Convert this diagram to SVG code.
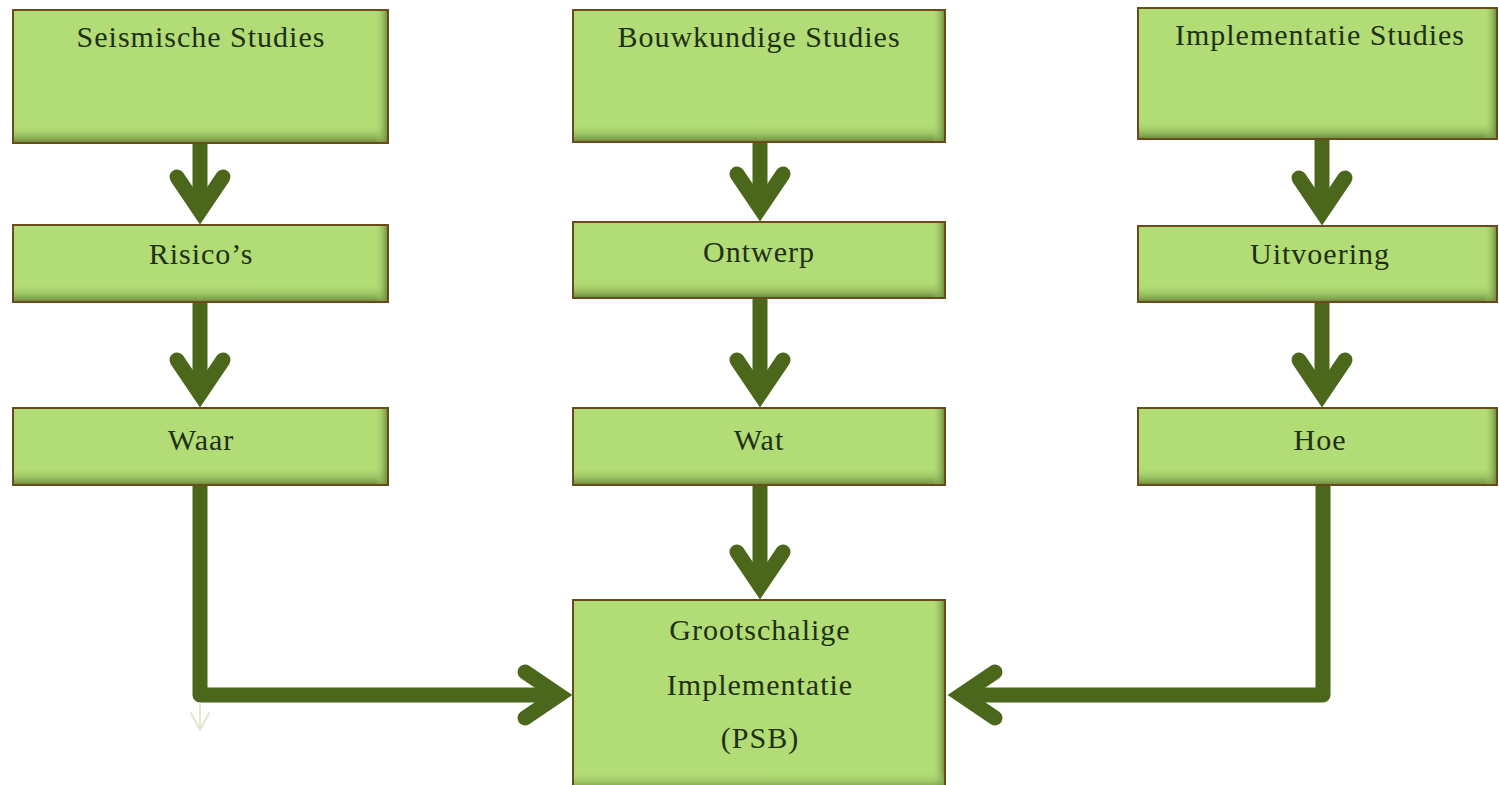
<svg xmlns="http://www.w3.org/2000/svg" width="1499" height="785" viewBox="0 0 1499 785">
<style>
.box{fill:#b2dc76;stroke:none}
.brd{fill:none;stroke:#6a4b1d;stroke-width:2}
.sb{fill:url(#gb)}
.sr{fill:url(#gr)}
.t{font-family:"Liberation Serif","DejaVu Serif",serif;font-size:30px;fill:#1f3014;text-anchor:middle;letter-spacing:1px}
.sh{fill:none;stroke:#4b671b;stroke-width:15;stroke-linejoin:round}
.ah{fill:none;stroke:#4b671b;stroke-width:15;stroke-linecap:round;stroke-linejoin:miter;stroke-miterlimit:6}
</style>
<defs>
<linearGradient id="gb" x1="0" y1="0" x2="0" y2="1">
<stop offset="0" stop-color="#b2dc76" stop-opacity="0"/>
<stop offset="1" stop-color="#6a873a"/>
</linearGradient>
<linearGradient id="gr" x1="0" y1="0" x2="1" y2="0">
<stop offset="0" stop-color="#b2dc76" stop-opacity="0"/>
<stop offset="1" stop-color="#6a873a"/>
</linearGradient>
<polyline id="ad" class="ah" points="-23,-48 0,-14 23,-48"/>
</defs>
<rect width="1499" height="785" fill="#ffffff"/>
<g id="connectors">
<line class="sh" x1="200" y1="143" x2="200" y2="212"/>
<use href="#ad" x="200" y="225"/>
<line class="sh" x1="200" y1="302" x2="200" y2="395"/>
<use href="#ad" x="200" y="408"/>
<line class="sh" x1="760" y1="142" x2="760" y2="209"/>
<use href="#ad" x="760" y="222"/>
<line class="sh" x1="760" y1="298" x2="760" y2="395"/>
<use href="#ad" x="760" y="408"/>
<line class="sh" x1="760" y1="485" x2="760" y2="587"/>
<use href="#ad" x="760" y="600"/>
<line class="sh" x1="1322" y1="139" x2="1322" y2="213"/>
<use href="#ad" x="1322" y="226"/>
<line class="sh" x1="1322" y1="302" x2="1322" y2="395"/>
<use href="#ad" x="1322" y="408"/>
<polyline class="sh" points="200,485 200,695 560,695"/>
<use href="#ad" transform="translate(573,695) rotate(-90)"/>
<polyline class="sh" points="1323,485 1323,695 960,695"/>
<use href="#ad" transform="translate(947,695) rotate(90)"/>
<g fill="none" stroke="#e2e8d2" stroke-width="2" stroke-linecap="round">
<line x1="200" y1="704" x2="200" y2="730"/>
<polyline points="191,713 200,730 209,713"/>
</g>
</g>
<g id="n1">
<rect class="box" x="13" y="10" width="375" height="133"/>
<rect class="sb" x="13" y="125" width="375" height="18"/>
<rect class="sr" x="375" y="10" width="13" height="133"/>
<rect class="brd" x="13" y="10" width="375" height="133"/>
<text class="t" x="201" y="47">Seismische Studies</text>
</g>
<g id="n2">
<rect class="box" x="13" y="225" width="375" height="77"/>
<rect class="sb" x="13" y="284" width="375" height="18"/>
<rect class="sr" x="375" y="225" width="13" height="77"/>
<rect class="brd" x="13" y="225" width="375" height="77"/>
<text class="t" x="201" y="264">Risico’s</text>
</g>
<g id="n3">
<rect class="box" x="13" y="408" width="375" height="77"/>
<rect class="sb" x="13" y="467" width="375" height="18"/>
<rect class="sr" x="375" y="408" width="13" height="77"/>
<rect class="brd" x="13" y="408" width="375" height="77"/>
<text class="t" x="201" y="450">Waar</text>
</g>
<g id="n4">
<rect class="box" x="573" y="10" width="372" height="132"/>
<rect class="sb" x="573" y="124" width="372" height="18"/>
<rect class="sr" x="932" y="10" width="13" height="132"/>
<rect class="brd" x="573" y="10" width="372" height="132"/>
<text class="t" x="759" y="47">Bouwkundige Studies</text>
</g>
<g id="n5">
<rect class="box" x="573" y="222" width="372" height="76"/>
<rect class="sb" x="573" y="280" width="372" height="18"/>
<rect class="sr" x="932" y="222" width="13" height="76"/>
<rect class="brd" x="573" y="222" width="372" height="76"/>
<text class="t" x="759" y="262">Ontwerp</text>
</g>
<g id="n6">
<rect class="box" x="573" y="408" width="372" height="77"/>
<rect class="sb" x="573" y="467" width="372" height="18"/>
<rect class="sr" x="932" y="408" width="13" height="77"/>
<rect class="brd" x="573" y="408" width="372" height="77"/>
<text class="t" x="759" y="450">Wat</text>
</g>
<g id="n7">
<rect class="box" x="1138" y="8" width="359" height="131"/>
<rect class="sb" x="1138" y="121" width="359" height="18"/>
<rect class="sr" x="1484" y="8" width="13" height="131"/>
<rect class="brd" x="1138" y="8" width="359" height="131"/>
<text class="t" x="1320" y="45">Implementatie Studies</text>
</g>
<g id="n8">
<rect class="box" x="1138" y="226" width="359" height="76"/>
<rect class="sb" x="1138" y="284" width="359" height="18"/>
<rect class="sr" x="1484" y="226" width="13" height="76"/>
<rect class="brd" x="1138" y="226" width="359" height="76"/>
<text class="t" x="1320" y="264">Uitvoering</text>
</g>
<g id="n9">
<rect class="box" x="1138" y="408" width="359" height="77"/>
<rect class="sb" x="1138" y="467" width="359" height="18"/>
<rect class="sr" x="1484" y="408" width="13" height="77"/>
<rect class="brd" x="1138" y="408" width="359" height="77"/>
<text class="t" x="1320" y="450">Hoe</text>
</g>
<g id="n10">
<rect class="box" x="573" y="600" width="372" height="190"/>
<rect class="sr" x="932" y="600" width="13" height="190"/>
<rect class="sb" x="573" y="772" width="372" height="18"/>
<rect class="brd" x="573" y="600" width="372" height="190"/>
<text class="t" x="760" y="640">Grootschalige</text>
<text class="t" x="760" y="695">Implementatie</text>
<text class="t" x="760" y="748">(PSB)</text>
</g>
</svg>
